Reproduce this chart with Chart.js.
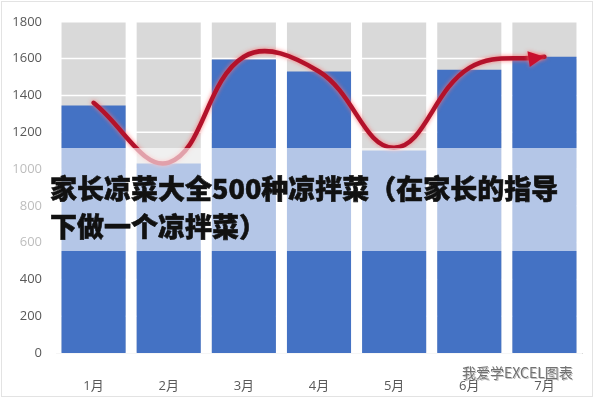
<!DOCTYPE html>
<html>
<head>
<meta charset="utf-8">
<script src="https://cdn.jsdelivr.net/npm/chart.js@4.4.0/dist/chart.umd.min.js"></script>
<style>
    html, body { margin: 0; padding: 0; background: #fff; }
    #wrap { position: relative; width: 600px; height: 400px; overflow: hidden; }
    #frame { position: absolute; left: 1px; top: 1px; width: 590px; height: 394px; border: 1px solid #e3e3e3; pointer-events: none; }
    #band { position: absolute; left: 0; top: 148px; width: 600px; height: 103px; background: rgba(255, 255, 255, 0.6); }
    #title { position: absolute; left: 50px; top: 169px; font: 900 27px/38px 'Noto Sans CJK SC'; color: #111; white-space: nowrap;
             -webkit-text-stroke: 0.6px #111; }
    #mark { position: absolute; left: 462px; top: 362px; font: 14px 'Noto Sans CJK SC'; color: #707070; white-space: nowrap;
            text-shadow: 0 0 1px #fff, 1px 1px 0 #bbb; }
</style>
</head>
<body>
<div id="wrap">
    <canvas id="monthChart" width="600" height="400"></canvas>
    <div id="band"></div>
    <div id="title">家长凉菜大全500种凉拌菜（在家长的指导<br>下做一个凉拌菜）</div>
    <div id="mark">我爱学EXCEL图表</div>
    <div id="frame"></div>
</div>
<script>
    //data
    const months = ['1月', '2月', '3月', '4月', '5月', '6月', '7月'];
    const backValues = [1800, 1800, 1800, 1800, 1800, 1800, 1800];
    const salesValues = [1345, 1030, 1595, 1530, 1100, 1540, 1610];
    const trendValues = [1360, 1035, 1610, 1530, 1115, 1550, 1610];
    const yMax = 1800;
    const yStep = 200;

    const axisFont = { family: "'Open Sans', 'Noto Sans CJK SC'", size: 13 };

    //white grid lines only over the grey bars
    const whiteGrid = {
        id: 'whiteGrid',
        beforeDatasetDraw(chart, args) {
            if (args.index !== 1) return;
            const { ctx, chartArea, scales } = chart;
            ctx.save();
            ctx.strokeStyle = '#ffffff';
            ctx.lineWidth = 1.5;
            scales.y.ticks.forEach(t => {
                const y = scales.y.getPixelForValue(t.value);
                ctx.beginPath();
                ctx.moveTo(chartArea.left, y);
                ctx.lineTo(chartArea.right, y);
                ctx.stroke();
            });
            ctx.restore();
        }
    };

    //glow round the red line + arrow head at its end
    const trendArrow = {
        id: 'trendArrow',
        beforeDatasetDraw(chart, args) {
            if (args.index !== 2) return;
            const ctx = chart.ctx;
            ctx.save();
            ctx.shadowColor = 'rgba(255, 110, 110, 0.9)';
            ctx.shadowBlur = 4;
        },
        afterDatasetDraw(chart, args) {
            if (args.index !== 2) return;
            const ctx = chart.ctx;
            const points = args.meta.data;
            const end = points[points.length - 1];
            const dx = end.x - end.cp1x;
            const dy = end.y - end.cp1y;
            const len = Math.sqrt(dx * dx + dy * dy) || 1;
            const ux = dx / len, uy = dy / len;
            const head = 16, half = 8;
            const bx = end.x - ux * head, by = end.y - uy * head;
            ctx.fillStyle = '#c8102e';
            ctx.beginPath();
            ctx.moveTo(end.x, end.y);
            ctx.lineTo(bx - uy * half, by + ux * half);
            ctx.lineTo(bx + uy * half, by - ux * half);
            ctx.closePath();
            ctx.fill();
            ctx.restore();
        }
    };

    let monthContext = document.getElementById('monthChart');
    let monthChart = new Chart(monthContext, {
        type: 'bar',
        data: {
            labels: months,
            datasets: [
                {
                    label: 'back',
                    data: backValues,
                    backgroundColor: '#d9d9d9',
                    grouped: false,
                    order: 3,
                    categoryPercentage: 1,
                    barPercentage: 0.853
                },
                {
                    label: 'sales',
                    data: salesValues,
                    backgroundColor: '#4472c4',
                    grouped: false,
                    order: 2,
                    categoryPercentage: 1,
                    barPercentage: 0.853
                },
                {
                    type: 'line',
                    label: 'trend',
                    data: trendValues,
                    borderColor: '#b3122b',
                    borderWidth: 4.5,
                    borderCapStyle: 'round',
                    tension: 0.4,
                    pointRadius: 0,
                    fill: false,
                    order: 1
                }
            ]
        },
        options: {
            responsive: false,
            animation: false,
            layout: { padding: { top: 20, right: 18, left: 0, bottom: 0 } },
            plugins: {
                legend: { display: false },
                tooltip: { enabled: false }
            },
            scales: {
                x: {
                    grid: { display: false },
                    border: { color: '#d9d9d9' },
                    ticks: { color: '#595959', font: axisFont, padding: 17 },
                    afterFit(scale) { scale.height = 47; }
                },
                y: {
                    min: 0,
                    max: yMax,
                    grid: { display: false, drawTicks: false },
                    border: { display: false },
                    ticks: { stepSize: yStep, color: '#595959', font: axisFont, padding: 14, callback: v => String(v) },
                    afterFit(scale) { scale.width = 56; }
                }
            }
        },
        plugins: [whiteGrid, trendArrow]
    });
</script>
</body>
</html>
